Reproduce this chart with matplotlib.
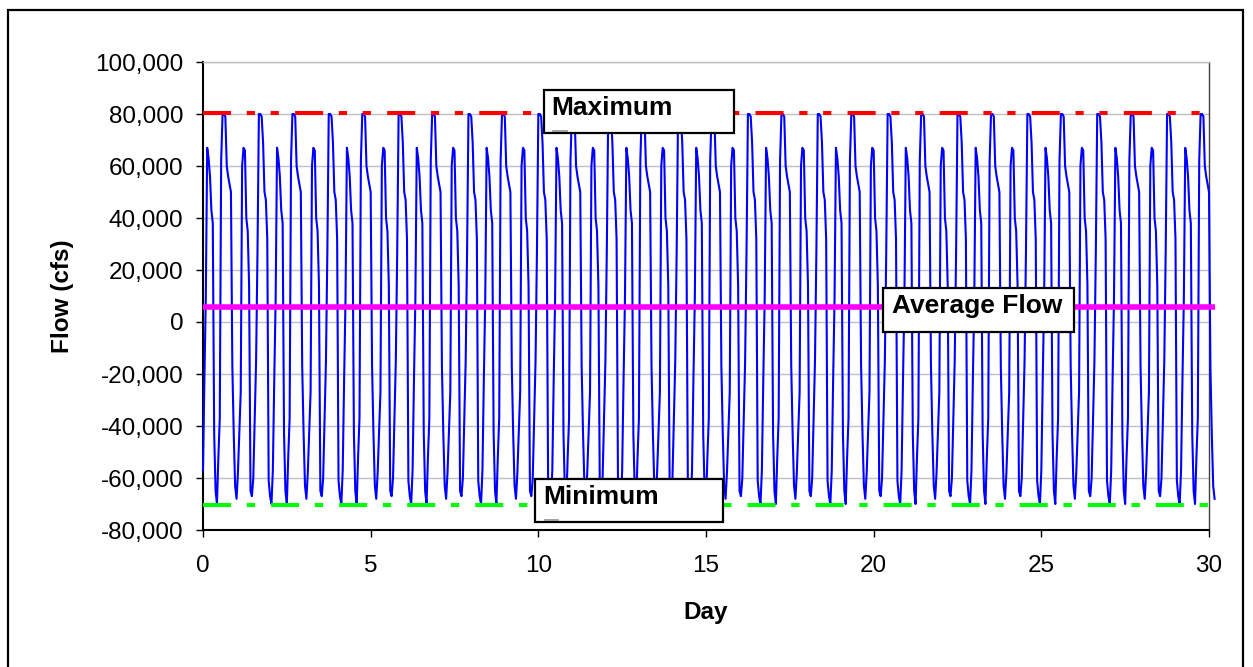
import numpy as np
import matplotlib
matplotlib.use("Agg")
import matplotlib.pyplot as plt
from matplotlib.patches import Rectangle
from matplotlib.ticker import FuncFormatter

plt.rcParams['font.family'] = ['Liberation Sans', 'DejaVu Sans']
plt.rcParams['lines.scale_dashes'] = False

# ---- data (hourly flow, cfs): one repeating 50-hour block (two tidal cycles)
cycle_a = [-57000, -22000, 9000, 67000, 63000, 56000, 43000, 38000, -43000, -65000,
           -70000, -52000, -37000, 62000, 80000, 80000, 79000, 60000, 56000, 53000,
           50000, -17000, -43000, -63000, -68000]
cycle_b = [-58000, -43000, -27000, 60000, 67000, 66000, 40000, 35000, 14000, -65000,
           -67000, -60000, -38000, -15000, 27000, 80000, 80000, 79000, 69000, 50000,
           47000, 32000, -61000, -67000, -70000]
n_hours = 725
max_flow = 80500
min_flow = -70400
avg_flow = 5800
x_ticks = [0, 5, 10, 15, 20, 25, 30]
y_ticks = [-80000, -60000, -40000, -20000, 0, 20000, 40000, 60000, 80000, 100000]
labels = {"max": "Maximum", "min": "Minimum", "avg": "Average Flow"}

flow = np.tile(np.array(cycle_a + cycle_b), 15)[:n_hours]
day = np.arange(n_hours) / 24.0
day_end = day[-1]

W, H = 1253, 667
fig = plt.figure(figsize=(W / 100, H / 100), dpi=100)
fig.patch.set_facecolor("white")

# outer chart border
fig.add_artist(Rectangle((8 / W, -0.05), (1243 - 8) / W, 1.05 - 10 / H,
                         transform=fig.transFigure, fill=False,
                         edgecolor="black", linewidth=1.6))

ax = fig.add_axes([203 / W, 1 - 530 / H, (1209 - 203) / W, (530 - 62) / H])
ax.set_xlim(0, 30)
ax.set_ylim(-80000, 100000)

ax.yaxis.grid(True, color="#c0c0c0", linewidth=1.0, zorder=0)
ax.set_axisbelow(True)

ax.plot(day, flow, color="#0000ff", linewidth=1.5, zorder=3, clip_on=False)

ax.plot([0, day_end], [max_flow, max_flow], color="#ff0000", linewidth=2.9,
        linestyle=(0, (20.2, 11.3, 5.9, 11.3, 5.9, 11.7)), dash_capstyle="butt",
        zorder=4, clip_on=False)
ax.plot([0, day_end], [min_flow, min_flow], color="#00ff00", linewidth=2.9,
        linestyle=(0, (20.2, 11.3, 6.0, 11.5)), dash_capstyle="butt",
        zorder=4, clip_on=False)
ax.plot([0, day_end], [avg_flow, avg_flow], color="#ff00ff", linewidth=4.0,
        solid_capstyle="butt", zorder=4, clip_on=False)

# annotation boxes
def label_box(x0, x1, y0, y1, tx, ty, text):
    ax.add_patch(Rectangle((x0, y0), x1 - x0, y1 - y0, facecolor="white",
                           edgecolor="black", linewidth=1.6, zorder=6, clip_on=False))
    ax.text(tx, ty, text, fontsize=19, fontweight="bold", ha="left", va="center",
            zorder=7, clip_on=False)

label_box(10.17, 15.84, 72700, 89200, 10.40, 82300, labels["max"])
label_box(9.90, 15.51, -76900, -60400, 10.14, -67300, labels["min"])
label_box(20.28, 25.98, -3800, 13100, 20.55, 6150, labels["avg"])

# small grey marks inside the Maximum / Minimum boxes
ax.plot([10.45, 10.85], [73600, 73600], color="#909090", linewidth=1.2, zorder=8)
ax.plot([10.19, 10.59], [-76000, -76000], color="#909090", linewidth=1.2, zorder=8)

ax.set_xticks(x_ticks)
ax.set_yticks(y_ticks)
ax.yaxis.set_major_formatter(FuncFormatter(lambda v, p: f"{int(v):,}"))
ax.tick_params(axis="both", direction="out", length=5, width=1.0, labelsize=17.5,
               colors="black")
ax.tick_params(axis="y", pad=9)
ax.tick_params(axis="x", pad=13)

for s in ["left", "bottom"]:
    ax.spines[s].set_color("black")
    ax.spines[s].set_linewidth(1.5)
ax.spines["right"].set_color("#404040")
ax.spines["right"].set_linewidth(1.0)
ax.spines["top"].set_color("#c0c0c0")
ax.spines["top"].set_linewidth(1.0)

ax.set_xlabel("Day", fontsize=17.5, fontweight="bold")
ax.set_ylabel("Flow (cfs)", fontsize=17.5, fontweight="bold")
ax.xaxis.set_label_coords(0.5, (530 - 613) / (530 - 62))
ax.xaxis.label.set_va("center")
ax.yaxis.set_label_coords((62 - 203) / (1209 - 203), 0.5)
ax.yaxis.label.set_va("center")

fig.savefig("out.png", dpi=100)
